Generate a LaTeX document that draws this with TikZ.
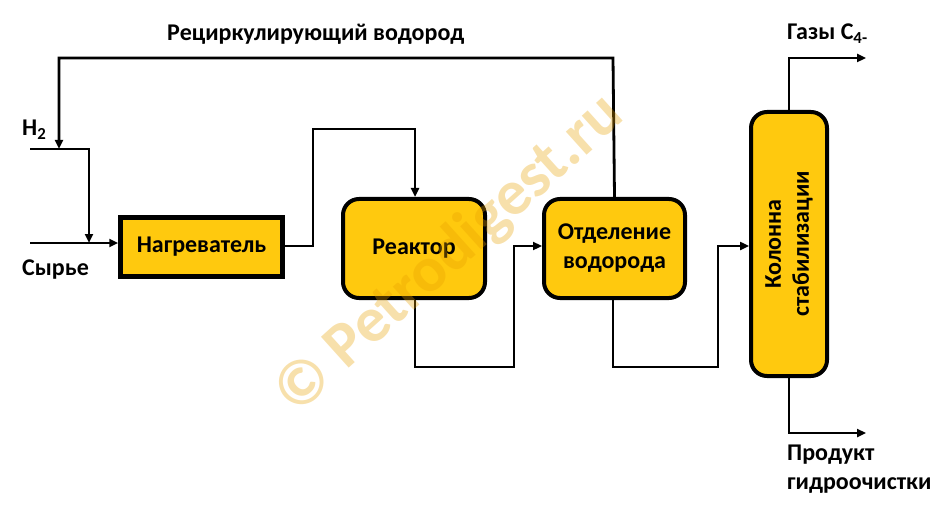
\documentclass[tikz,border=0pt]{standalone}
\usepackage{fontspec}
\setmainfont{Carlito}
\usetikzlibrary{arrows.meta}
\definecolor{boxfill}{HTML}{FFC90E}
\definecolor{wmark}{HTML}{E8A000}
\tikzset{
  flow/.style={line width=2.8pt, -{Triangle[length=9pt,width=8pt]}},
  sqbox/.style={draw, line width=4.5pt, fill=boxfill, minimum width=162pt, minimum height=59pt, inner sep=0pt},
  rbox/.style={draw, line width=4pt, fill=boxfill, rounded corners=16pt, inner sep=0pt},
  lbl/.style={font=\fontsize{24}{29}\selectfont\bfseries, inner sep=0pt},
}
\begin{document}
\begin{tikzpicture}[x=1pt,y=-1pt]
\useasboundingbox (0,0) rectangle (949,521);
% boxes
\node[sqbox, lbl] (heat) at (201.5,247) {Нагреватель};
\node[rbox, lbl, minimum width=142pt, minimum height=99pt] (reac) at (414,248.5) {Реактор};
\node[rbox, lbl, minimum width=141pt, minimum height=99pt, align=center] (sep) at (614.5,248.5) {Отделение\\водорода};
\node[rbox, lbl, minimum width=264pt, minimum height=76pt, align=center, rotate=90, font=\fontsize{24}{28}\selectfont\bfseries] (col) at (789,244) {Колонна\\стабилизации};
% coordinates
\coordinate (h2in) at (30,149);
\coordinate (feedin) at (30,243);
\coordinate (gasout) at (866,58);
\coordinate (prodout) at (866,433);
\coordinate (colin) at (749,246);
% recycle
\draw[flow] (sep.north) -- (613,58) -- (59,58) -- (59,149);
% H2
\draw[flow] (h2in) -- (89,149) -- (89,243);
% feed
\draw[flow] (feedin) -- (heat.west |- feedin);
% heater to reactor
\draw[flow] (heat.east |- 0,246) -- (313,246) -- (313,129) -- (415,129) -- (415,197);
% reactor to separator
\draw[flow] (415,300) -- (415,367) -- (514,367) -- (514,246) -- (sep.west |- 0,246);
% separator to column
\draw[flow] (613,300) -- (613,367) -- (718,367) -- (718,246) -- (colin);
% column outputs
\draw[flow] (789,111) -- (789,58) -- (gasout);
\draw[flow] (789,377) -- (789,433) -- (prodout);
% labels
\node[lbl, anchor=west] (trecyc) at (167,34) {Рециркулирующий водород};
\node[lbl, anchor=west] (th2) at (22,130) {H\textsubscript{2}};
\node[lbl, anchor=west] (tfeed) at (22,270) {Сырье};
\node[lbl, anchor=west] (tgas) at (787,34) {Газы C\textsubscript{4-}};
\node[lbl, anchor=north west, align=left] (tprod) at (787,445) {Продукт\\гидроочистки};
% watermark
\node[text=wmark, text opacity=0.33, rotate=42, font=\fontsize{64}{70}\selectfont\bfseries, inner sep=0pt] (wm) at (450,255) {© Petrodigest.ru};
\end{tikzpicture}
\end{document}
